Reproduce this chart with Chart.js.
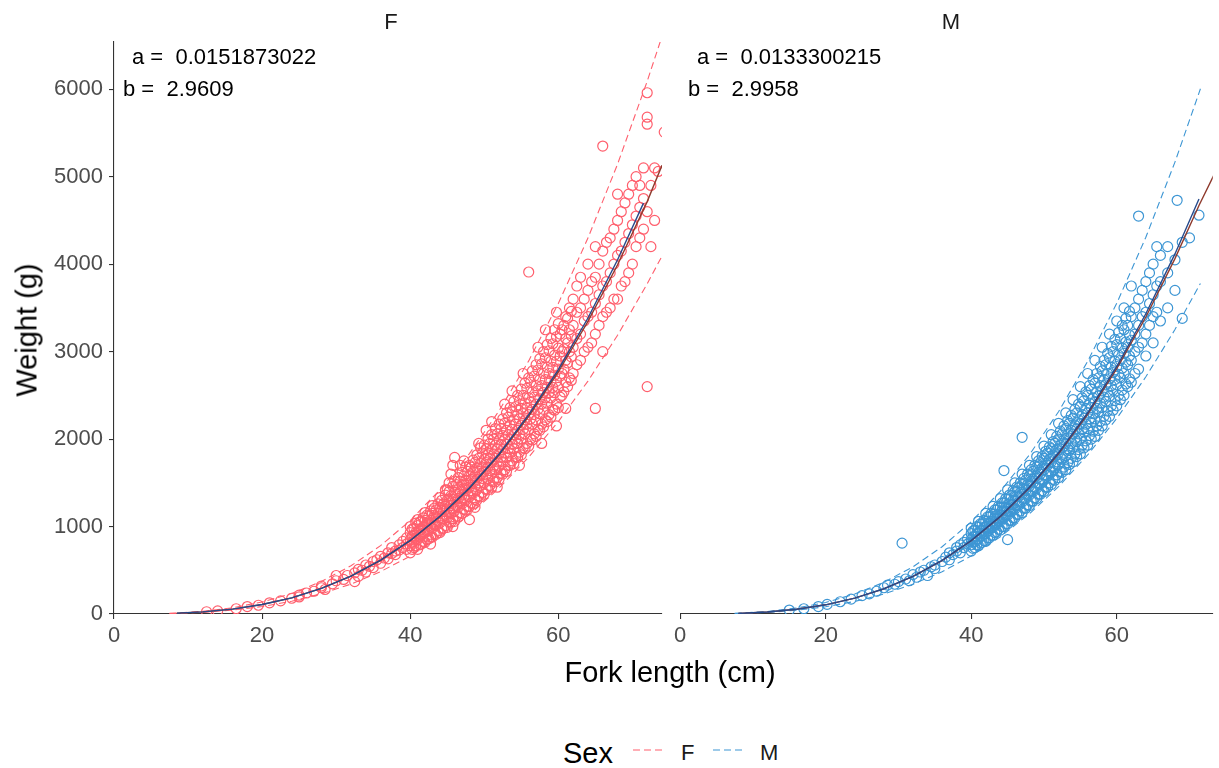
<!DOCTYPE html>
<html>
<head>
<meta charset="utf-8">
<script src="https://cdn.jsdelivr.net/npm/chart.js@4.4.0/dist/chart.umd.min.js"></script>
<style>
  html, body { margin: 0; padding: 0; background: #fff; overflow: hidden; }
  body { width: 1219px; height: 768px; position: relative; font-family: "Liberation Sans", Arial, sans-serif; }
  canvas { position: absolute; top: 0; }
  #chartF { left: 0; }
  #chartM { left: 670px; }
  .txt { position: absolute; white-space: pre; line-height: 1; color: #000; }
  .mid { transform: translate(-50%, -50%); }
  .vmid { transform: translateY(-50%); }
  .strip { font-size: 22px; color: #1a1a1a; }
  .note { font-size: 22px; }
  .title { font-size: 29px; }
  .lab { font-size: 22px; color: #1a1a1a; }
  svg { position: absolute; }
</style>
</head>
<body>
<canvas id="chartF" width="670" height="660"></canvas>
<canvas id="chartM" width="549" height="660"></canvas>

<div class="txt strip mid" style="left:391px; top:22px;">F</div>
<div class="txt strip mid" style="left:951px; top:22px;">M</div>

<div class="txt note vmid" style="left:132px; top:57px;">a =  0.0151873022</div>
<div class="txt note vmid" style="left:123px; top:89px;">b =  2.9609</div>
<div class="txt note vmid" style="left:697px; top:57px;">a =  0.0133300215</div>
<div class="txt note vmid" style="left:688px; top:89px;">b =  2.9958</div>

<div class="txt title mid" style="left:670px; top:672px;">Fork length (cm)</div>
<div class="txt title" style="left:27px; top:330px; transform: translate(-50%, -50%) rotate(-90deg);">Weight (g)</div>

<!-- legend -->
<div class="txt title vmid" style="left:563px; top:753px;">Sex</div>
<svg style="left:633px; top:745px;" width="30" height="10"><line x1="0" y1="5" x2="29" y2="5" stroke="#ff5f6d" stroke-width="1.2" stroke-dasharray="7 4"/></svg>
<div class="txt lab vmid" style="left:681px; top:753px;">F</div>
<svg style="left:713px; top:745px;" width="30" height="10"><line x1="0" y1="5" x2="29" y2="5" stroke="#3d96d4" stroke-width="1.2" stroke-dasharray="7 4"/></svg>
<div class="txt lab vmid" style="left:760px; top:753px;">M</div>

<script>
// ── Axis ticks ───────────────────────────────────────────────────────────────
const xTicks = [0, 20, 40, 60];
const yTicks = [0, 1000, 2000, 3000, 4000, 5000, 6000];

// ── Female: [fork length, [weights...]] ─────────────────────────────────────
const femaleRows = [
  [12.5,[26]],[14,[36]],[16.5,[60]],[18,[85]],[19.5,[100]],
  [21,[128]],[22.5,[150]],[24,[180]],[25,[195,215]],[26,[240]],
  [27,[260]],[28,[300,320]],[28.5,[280]],[29.5,[345]],[30,[380,440]],
  [31,[395]],[31.5,[440]],[32.5,[370,470]],[33,[430,510]],[33.5,[500]],
  [34,[480,560]],[34.5,[545]],[35,[530,600]],[35.5,[620]],[36,[580,660]],
  [36.5,[640]],[37,[630,700]],[37.5,[690,760]],[38,[680,720]],[38.5,[730,790]],
  [39,[760,830]],[39.5,[740,800,870]],
  [40,[700,780,850,930,1000]],
  [40.5,[760,830,900,980]],
  [41,[740,850,920,1010,1080]],
  [41.5,[800,900,970,1060]],
  [42,[820,930,990,1070,1160]],
  [42.5,[860,950,1040,1120]],
  [43,[880,980,1050,1150,1240]],
  [43.5,[910,1010,1100,1190]],
  [44,[930,1040,1120,1210,1330]],
  [44.5,[980,1090,1170,1260]],
  [45,[990,1100,1200,1300,1420]],
  [45.5,[1050,1150,1240,1350,1600]],
  [46,[1060,1180,1280,1390,1520,1790]],
  [46.5,[1110,1220,1320,1430,1560]],
  [47,[1150,1260,1360,1480,1620]],
  [47.5,[1190,1300,1410,1530,1680]],
  [48,[1080,1230,1340,1450,1580,1700]],
  [48.5,[1260,1380,1500,1630,1760]],
  [49,[1300,1420,1540,1670,1820]],
  [49.5,[1340,1470,1590,1720,1900]],
  [50,[1370,1500,1630,1770,1930]],
  [50.5,[1420,1550,1680,1820,2000]],
  [51,[1450,1600,1730,1880,2050,2200]],
  [51.5,[1510,1650,1780,1930,2120]],
  [52,[1540,1690,1830,1990,2170]],
  [52.5,[1600,1740,1880,2040,2230]],
  [53,[1630,1790,1940,2100,2300]],
  [53.5,[1700,1840,1990,2160,2360]],
  [54,[1720,1890,2050,2220,2430]],
  [54.5,[1790,1950,2100,2280,2500]],
  [55,[1820,2000,2160,2350,2570]],
  [55.5,[1890,2060,2220,2410,2640]],
  [56,[1920,2110,2280,2470,2700,3910]],
  [56.5,[1990,2170,2340,2540,2780]],
  [57,[2030,2220,2400,2610,2850]],
  [57.5,[2100,2290,2460,2680,2920]],
  [58,[2140,2340,2530,2750,3000]],
  [58.5,[2200,2410,2590,2820,3080]],
  [59,[2250,2470,2660,2890,3150]],
  [59.5,[2330,2530,2730,2960,3250]],
  [60,[2360,2590,2800,3040,3320]],
  [60.5,[2500,2750,3000,3250]],
  [61,[2350,2650,2900,3150,3400]],
  [61.5,[2700,3000,3250,3500]],
  [62,[2750,3050,3300,3600]],
  [62.5,[2850,3150,3450,3750]],
  [63,[2900,3200,3500,3850]],
  [63.5,[3000,3350,3600]],
  [64,[3050,3400,3700,4000]],
  [64.5,[3100,3450,3800]],
  [65,[2350,3200,3550,3850,4200]],
  [65.5,[3300,3650,4000]],
  [66,[3000,3400,3750,4150,5350]],
  [66.5,[3450,3800,4250]],
  [67,[3500,3900,4300]],
  [67.5,[3600,4000,4400]],
  [68,[3600,4100,4500,4800]],
  [68.5,[3750,4150,4600]],
  [69,[3800,4250,4700]],
  [69.5,[3900,4350,4800]],
  [70,[4000,4450,4900]],
  [70.5,[4200,4550,5000]],
  [71,[4300,4650,4900]],
  [71.5,[4400,4750,5100]],
  [72,[2600,4600,5600,5680,5960]],
  [72.5,[4200,4900]],
  [73,[4500,5100]],
  [73.5,[5060]],
  [74.3,[5510]],
];

// in-between lengths of the dense female cloud
const femaleRowsMid = [
  [40.25,[740,820,890,970]],[40.75,[780,860,930,1040]],
  [41.25,[790,880,960,1050]],[41.75,[830,920,1000,1100]],
  [42.25,[850,950,1030,1130]],[42.75,[800,880,990,1070,1180]],
  [43.25,[920,1020,1110,1210]],[43.75,[950,1060,1150,1260]],
  [44.25,[980,1090,1190,1300]],[44.75,[1010,1130,1230,1360,1420]],
  [45.25,[1050,1170,1270,1400,1500]],[45.75,[1000,1090,1210,1310,1460,1700]],
  [46.25,[1120,1240,1350,1480]],[46.75,[1160,1290,1400,1520,1700]],
  [47.25,[1200,1330,1440,1580,1750]],[47.75,[1230,1370,1490,1630]],
  [48.25,[1270,1410,1540,1680]],[48.75,[1220,1310,1460,1580,1730]],
  [49.25,[1350,1500,1630,1780,1950]],[49.75,[1390,1550,1680,1840]],
  [50.25,[1430,1590,1730,1890,2100]],[50.75,[1470,1640,1780,1950]],
  [51.25,[1520,1690,1830,2000]],[51.75,[1450,1560,1740,1890,2060]],
  [52.25,[1610,1790,1940,2120]],[52.75,[1650,1840,2000,2180,2400]],
  [53.25,[1700,1890,2050,2250]],[53.75,[1750,1940,2110,2310,2550]],
  [54.25,[1800,2000,2170,2370]],[54.75,[1700,1850,2050,2230,2440]],
  [55.25,[1900,2110,2290,2500,2750]],[55.75,[1950,2170,2350,2580]],
  [56.25,[2000,2230,2420,2650]],[56.75,[2060,2280,2480,2720]],
  [57.25,[2110,2340,2550,2790,3050]],[57.75,[1950,2170,2400,2610,2860]],
  [58.25,[2220,2470,2680,2930,3250]],[58.75,[2280,2530,2750,3010]],
  [59.25,[2340,2590,2820,3090]],[59.75,[2150,2400,2660,2890,3170,3450]],
  [60.25,[2480,2720,2950,3200]],[60.75,[2540,2800,3030,3300]],
  [61.25,[2600,2870,3100,3380]],[61.75,[2670,2940,3180,3460]],
];

// fitted curve, second fit and prediction band (female)
const fitLenF  = [8.5, 12, 16, 20, 24, 28, 32, 36, 40, 44, 48, 52, 56, 60, 64, 68, 71.5];
const fitWtF   = [10, 24, 56, 108, 185, 293, 434, 616, 841, 1117, 1444, 1829, 2279, 2795, 3384, 4050, 4698];
const altLenF  = [8.5, 12, 16, 20, 24, 28, 32, 36, 40, 44, 48, 52, 56, 60, 64, 68, 72, 74];
const altWtF   = [10, 24, 56, 108, 185, 293, 433, 614, 838, 1112, 1436, 1816, 2260, 2767, 3345, 3993, 4715, 5130];
const bandLenF = [7.5, 12, 16, 20, 24, 28, 32, 36, 40, 44, 48, 52, 56, 60, 64, 68, 72, 74];
const upperF   = [7.5, 30, 71, 137, 235, 372, 551, 782, 1068, 1419, 1834, 2323, 2894, 3550, 4298, 5144, 6091, 6605];
const lowerF   = [4.6, 19, 44, 85, 146, 231, 342, 485, 662, 879, 1136, 1439, 1794, 2200, 2663, 3187, 3775, 4093];

// ── Male ─────────────────────────────────────────────────────────────────────
const maleRows = [
  [15,[45]],[17,[60]],[19,[85]],[20.2,[110]],[22,[140]],
  [23.5,[170]],[25,[210]],[26,[230]],[27,[260]],[28,[300]],
  [28.5,[330]],[29.5,[340]],[30,[370]],[30.5,[810]],[31,[400]],
  [31.5,[380]],[32,[450]],[32.5,[420]],[33,[480]],[33.5,[500]],
  [34,[440]],[34.5,[540]],[35,[520,560]],
  [36,[600]],[36.5,[650]],[37,[620,700]],[37.5,[680]],[38,[720,760]],
  [38.5,[700,790]],[39,[760,820]],[39.5,[800,860]],
  [40,[720,790,850,920,980]],
  [40.5,[760,830,890,960]],
  [41,[780,860,920,990,1060]],
  [41.5,[820,900,960,1030]],
  [42,[830,920,990,1060,1150]],
  [42.5,[870,960,1030,1110]],
  [43,[900,990,1060,1140,1230]],
  [43.5,[940,1030,1100,1190]],
  [44,[960,1060,1130,1220,1320]],
  [44.5,[1000,1100,1180,1270,1640]],
  [45,[850,1030,1130,1210,1310,1420]],
  [45.5,[1070,1170,1250,1350]],
  [46,[1100,1200,1290,1400,1500]],
  [46.5,[1140,1240,1340,1440]],
  [47,[1160,1280,1370,1480,1600,2020]],
  [47.5,[1210,1320,1410,1530]],
  [48,[1240,1360,1460,1580,1700]],
  [48.5,[1290,1400,1500,1630]],
  [49,[1320,1440,1550,1680,1800]],
  [49.5,[1370,1490,1600,1730]],
  [50,[1400,1530,1650,1780,1920]],
  [50.5,[1450,1580,1700,1840]],
  [51,[1480,1620,1740,1890,2050]],
  [51.5,[1530,1670,1800,1950]],
  [52,[1560,1710,1840,2000,2180]],
  [52.5,[1620,1770,1900,2060]],
  [53,[1650,1810,1950,2120,2300]],
  [53.5,[1710,1870,2010,2180]],
  [54,[1740,1910,2060,2240,2450]],
  [54.5,[1800,1970,2120,2300]],
  [55,[1830,2010,2180,2370,2600]],
  [55.5,[1900,2080,2240,2440]],
  [56,[1930,2120,2300,2500,2750]],
  [56.5,[2000,2190,2360,2570]],
  [57,[2030,2230,2420,2640,2900]],
  [57.5,[2100,2310,2490,2700]],
  [58,[2150,2360,2550,2780,3050]],
  [58.5,[2220,2430,2620,2850]],
  [59,[2260,2490,2690,2930,3200]],
  [59.5,[2330,2560,2760,3000]],
  [60,[2380,2620,2830,3080,3350]],
  [60.5,[2450,2700,2900,3150]],
  [61,[2500,2750,2980,3250,3500]],
  [61.5,[2600,2850,3050,3300]],
  [62,[2650,2900,3130,3400,3750]],
  [62.5,[2750,3000,3200,3500]],
  [63,[2800,3050,3300,3600,4550]],
  [63.5,[3100,3400,3700]],
  [64,[2950,3200,3450,3800]],
  [64.5,[3300,3550,3900]],
  [65,[3100,3400,3650,4000]],
  [65.5,[3450,3750,4200]],
  [66,[3350,3800,4100]],
  [67,[3500,3900,4200]],
  [68,[3700,4050]],
  [68.3,[4730]],
  [69,[3380,4250]],
  [70,[4300]],
  [71.3,[4560]],
];

const maleRowsMid = [
  [40.25,[750,830,880,950]],[40.75,[790,850,920,1000]],
  [41.25,[810,890,950,1030]],[41.75,[840,920,990,1070]],
  [42.25,[870,950,1020,1110]],[42.75,[900,990,1060,1150]],
  [43.25,[930,1020,1100,1190]],[43.75,[970,1060,1140,1230]],
  [44.25,[1000,1090,1180,1270]],[44.75,[1030,1130,1220,1320]],
  [45.25,[1070,1170,1260,1360]],[45.75,[1100,1200,1300,1410]],
  [46.25,[1140,1240,1350,1450]],[46.75,[1180,1280,1390,1500]],
  [47.25,[1210,1320,1430,1550]],[47.75,[1250,1370,1480,1600]],
  [48.25,[1290,1410,1520,1650]],[48.75,[1330,1450,1570,1700]],
  [49.25,[1370,1500,1620,1750]],[49.75,[1410,1540,1670,1800]],
  [50.25,[1450,1590,1720,1860]],[50.75,[1500,1640,1770,1910]],
  [51.25,[1540,1690,1820,1970]],[51.75,[1590,1740,1880,2030]],
  [52.25,[1630,1790,1930,2090]],[52.75,[1680,1840,1990,2150]],
  [53.25,[1730,1890,2050,2210]],[53.75,[1780,1950,2100,2270]],
  [54.25,[1830,2000,2160,2340]],[54.75,[1880,2060,2220,2400]],
  [55.25,[1930,2110,2280,2470]],[55.75,[1980,2170,2350,2540]],
  [56.25,[2040,2230,2410,2610]],[56.75,[2090,2290,2470,2680]],
  [57.25,[2150,2350,2540,2750]],[57.75,[2200,2410,2610,2830]],
  [58.25,[2260,2480,2680,2900]],[58.75,[2320,2540,2750,2980]],
  [59.25,[2380,2610,2820,3060]],[59.75,[2440,2680,2890,3140]],
  [60.25,[2500,2740,2960,3220]],[60.75,[2560,2810,3040,3300]],
  [61.25,[2630,2880,3110,3380]],[61.75,[2690,2950,3190,3460]],
];

const fitLenM  = [8, 12, 16, 20, 24, 28, 32, 36, 40, 44, 48, 52, 56, 60, 64, 68, 71.3];
const fitWtM   = [7, 23, 54, 105, 182, 289, 430, 613, 840, 1118, 1450, 1843, 2301, 2830, 3433, 4117, 4745];
const altLenM  = [8, 12, 16, 20, 24, 28, 32, 36, 40, 44, 48, 52, 56, 60, 64, 68, 71.3, 74];
const altWtM   = [7, 23, 54, 105, 182, 288, 429, 611, 837, 1113, 1442, 1831, 2283, 2804, 3396, 4063, 4670, 5130];
const bandLenM = [7.5, 12, 16, 20, 24, 28, 32, 36, 40, 44, 48, 52, 56, 60, 64, 68, 71.5];
const upperM   = [7, 29, 68, 132, 228, 362, 540, 769, 1054, 1403, 1820, 2313, 2888, 3552, 4308, 5167, 6005];
const lowerM   = [4.4, 18, 43, 83, 144, 228, 340, 484, 664, 883, 1146, 1456, 1818, 2236, 2712, 3252, 3780];

// ── Styling ──────────────────────────────────────────────────────────────────
const COL_F = "#ff5f6d";
const COL_M = "#3d96d4";
const NAVY  = "#264a8c";
const BROWN = "#8f3b2e";
const AXIS  = "#333333";
const TICK_TXT = "#4d4d4d";
const FONT = "'Liberation Sans', Arial, sans-serif";

const toXY = (xs, ys) => xs.map((x, i) => ({ x, y: ys[i] }));
const rowsToPts = rows => rows.flatMap(([len, ws]) => ws.map(w => ({ x: len, y: w })));

function makePanel(id, p) {
  const lineDs = (data, color, width, order, dash) => ({
    data, showLine: true, borderColor: color, borderWidth: width,
    borderDash: dash || [], pointRadius: 0, fill: false, order,
  });
  const ctx = document.getElementById(id).getContext("2d");
  return new Chart(ctx, {
    type: "scatter",
    data: {
      datasets: [
        lineDs(toXY(p.fitLen, p.fitWt), NAVY, 1.4, 1),
        lineDs(toXY(p.altLen, p.altWt), BROWN, 1.4, 2),
        lineDs(toXY(p.bandLen, p.upper), p.color, 1.1, 3, [7, 4]),
        lineDs(toXY(p.bandLen, p.lower), p.color, 1.1, 3, [7, 4]),
        {
          data: rowsToPts(p.rows),
          pointStyle: "circle",
          pointRadius: 5,
          pointBorderWidth: 1.2,
          borderColor: p.color,
          backgroundColor: "rgba(0,0,0,0)",
          showLine: false,
          order: 4,
        },
      ],
    },
    options: {
      responsive: false,
      animation: false,
      events: [],
      layout: { padding: { top: 42, right: p.padRight, left: p.padLeft, bottom: 0 } },
      plugins: { legend: { display: false }, tooltip: { enabled: false } },
      scales: {
        x: {
          type: "linear", min: 0, max: p.xMax,
          afterBuildTicks: s => { s.ticks = xTicks.map(v => ({ value: v })); },
          afterFit: s => { s.height = 46; },
          ticks: { color: TICK_TXT, font: { family: FONT, size: 22 }, padding: 4, maxRotation: 0, autoSkip: false,
                   callback: v => String(v) },
          grid: { drawOnChartArea: false, drawTicks: true, tickLength: 5, color: AXIS, lineWidth: 1.1 },
          border: { display: true, color: AXIS, width: 1.1 },
        },
        y: {
          display: p.showY, min: 0, max: 6540,
          afterBuildTicks: s => { s.ticks = yTicks.map(v => ({ value: v })); },
          afterFit: s => { s.width = p.showY ? 114 : 0; },
          ticks: { color: TICK_TXT, font: { family: FONT, size: 22 }, padding: 6, callback: v => String(v) },
          grid: { drawOnChartArea: false, drawTicks: true, tickLength: 5, color: AXIS, lineWidth: 1.1 },
          border: { display: true, color: AXIS, width: 1.1 },
        },
      },
    },
  });
}

makePanel("chartF", {
  rows: femaleRows.concat(femaleRowsMid), color: COL_F,
  fitLen: fitLenF, fitWt: fitWtF, altLen: altLenF, altWt: altWtF,
  bandLen: bandLenF, upper: upperF, lower: lowerF,
  xMax: 74, showY: true, padLeft: 0, padRight: 8,
});

makePanel("chartM", {
  rows: maleRows.concat(maleRowsMid), color: COL_M,
  fitLen: fitLenM, fitWt: fitWtM, altLen: altLenM, altWt: altWtM,
  bandLen: bandLenM, upper: upperM, lower: lowerM,
  xMax: 73.2, showY: false, padLeft: 7, padRight: 0,
});
</script>
</body>
</html>
